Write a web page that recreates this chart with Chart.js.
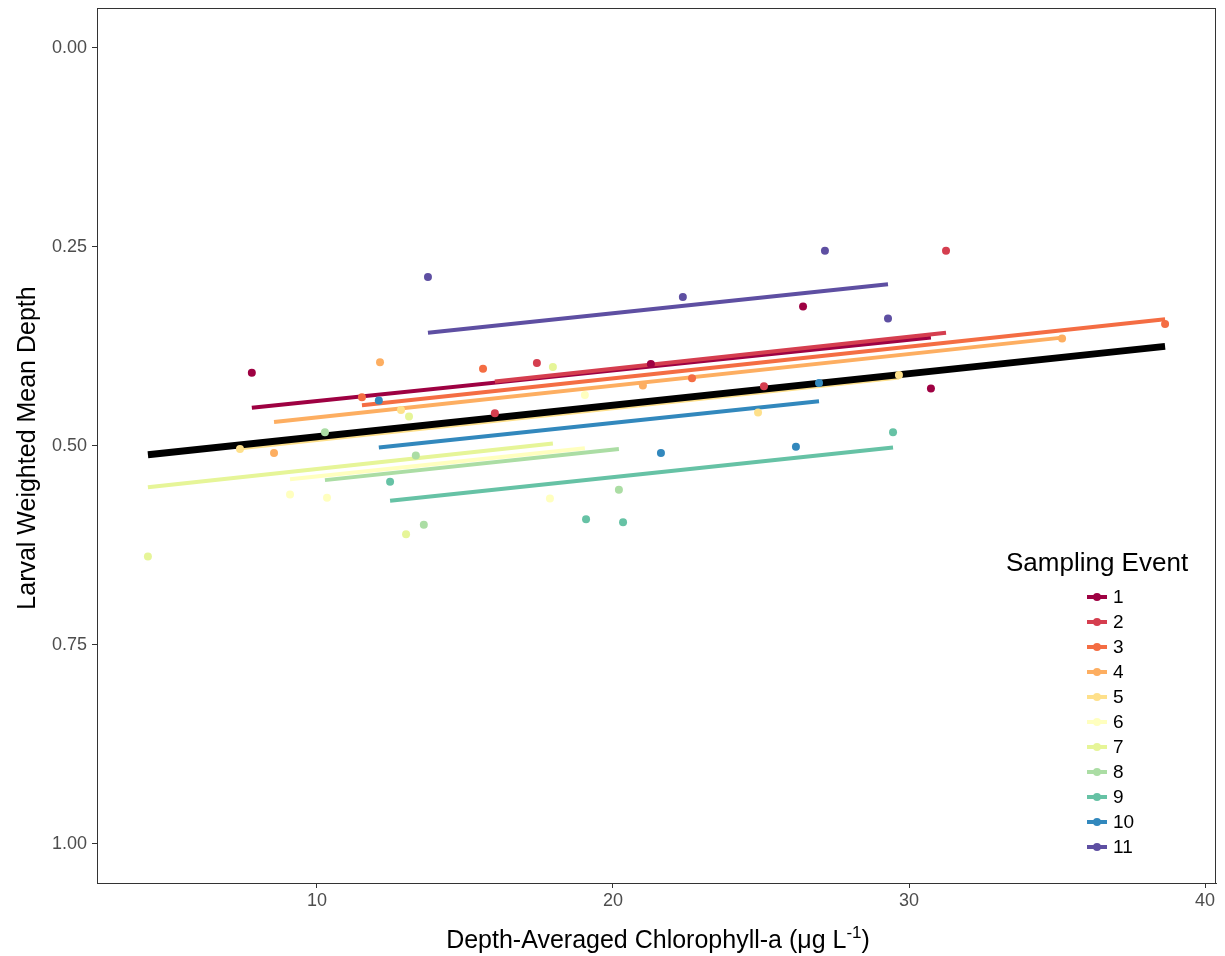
<!DOCTYPE html>
<html lang="en">
<head>
    <meta charset="UTF-8">
    <title>Larval Weighted Mean Depth vs Chlorophyll-a</title>
    <script src="https://cdn.jsdelivr.net/npm/chart.js@4.4.1/dist/chart.umd.min.js"></script>
    <style>
        body {
            margin: 0;
            padding: 0;
            background-color: #ffffff;
        }

        .chart-container {
            position: relative;
            width: 1225px;
            height: 956px;
        }
    </style>
</head>
<body>
    <div class="chart-container">
        <canvas id="depth-chart"></canvas>
    </div>

    <script>
        // Sampling events 1..11 (ColorBrewer Spectral)
        const eventLabels = ['1', '2', '3', '4', '5', '6', '7', '8', '9', '10', '11'];
        const eventColors = ['#9E0142', '#D53E4F', '#F46D43', '#FDAE61', '#FEE08B', '#FFFFBF',
                             '#E6F598', '#ABDDA4', '#66C2A5', '#3288BD', '#5E4FA2'];

        // Observed points: depth-averaged chlorophyll-a (x) and weighted mean depth (y)
        const chlA = [
            [7.80, 21.28, 26.42, 30.74],
            [17.43, 16.01, 25.10, 31.25],
            [15.61, 11.52, 22.67, 38.65],
            [12.13, 8.55, 21.01, 35.17],
            [12.84, 7.40, 24.90, 29.66],
            [9.09, 10.34, 19.05, 17.87],
            [4.29, 13.11, 13.01, 17.97],
            [10.27, 13.34, 13.61, 20.20],
            [12.47, 19.09, 20.34, 29.46],
            [12.09, 21.62, 26.18, 26.96],
            [13.75, 22.36, 27.16, 29.29]
        ];
        const meanDepth = [
            [0.408, 0.397, 0.325, 0.428],
            [0.396, 0.459, 0.425, 0.255],
            [0.403, 0.439, 0.415, 0.347],
            [0.395, 0.509, 0.424, 0.365],
            [0.455, 0.504, 0.458, 0.411],
            [0.561, 0.565, 0.436, 0.566],
            [0.639, 0.463, 0.611, 0.401],
            [0.483, 0.512, 0.599, 0.555],
            [0.545, 0.592, 0.596, 0.483],
            [0.443, 0.509, 0.501, 0.421],
            [0.288, 0.313, 0.255, 0.340]
        ];

        // Fitted line per event: depth at the event's lowest and highest chlorophyll-a
        const fitDepthStart = [0.452, 0.419, 0.449, 0.470, 0.503, 0.542, 0.552, 0.543, 0.569, 0.502, 0.358];
        const fitDepthEnd   = [0.364, 0.358, 0.341, 0.364, 0.414, 0.503, 0.497, 0.504, 0.502, 0.444, 0.297];

        // Overall fit (black)
        const overallChlA = [4.29, 38.65];
        const overallDepth = [0.511, 0.375];

        // Axis ticks
        const xTicks = [10, 20, 30, 40];
        const yTicks = [0, 0.25, 0.5, 0.75, 1];

        const FONT = '"Liberation Sans", Arial, Helvetica, sans-serif';

        const datasets = [];

        // points on top of everything
        eventLabels.forEach((label, i) => {
            datasets.push({
                type: 'scatter',
                label: label,
                data: chlA[i].map((x, j) => ({ x: x, y: meanDepth[i][j] })),
                backgroundColor: eventColors[i],
                borderWidth: 0,
                pointRadius: 4,
                pointHoverRadius: 4,
                order: 0
            });
        });

        // overall fit, above the per-event lines
        datasets.push({
            type: 'line',
            label: 'overall',
            data: overallChlA.map((x, j) => ({ x: x, y: overallDepth[j] })),
            borderColor: '#000000',
            borderWidth: 7,
            pointRadius: 0,
            borderCapStyle: 'butt',
            order: 1
        });

        // per-event fits; later events drawn over earlier ones
        eventLabels.forEach((label, i) => {
            const xmin = Math.min(...chlA[i]);
            const xmax = Math.max(...chlA[i]);
            datasets.push({
                type: 'line',
                label: 'fit ' + label,
                data: [{ x: xmin, y: fitDepthStart[i] }, { x: xmax, y: fitDepthEnd[i] }],
                borderColor: eventColors[i],
                borderWidth: 4,
                pointRadius: 0,
                borderCapStyle: 'butt',
                order: 100 - i
            });
        });

        // panel border, axis titles and legend
        const decorations = {
            id: 'decorations',
            afterDraw(chart) {
                const ctx = chart.ctx;
                const a = chart.chartArea;
                ctx.save();

                ctx.strokeStyle = '#333333';
                ctx.lineWidth = 1;
                ctx.strokeRect(a.left + 0.5, a.top + 0.5, a.right - a.left - 1, a.bottom - a.top);

                // x title with superscript
                ctx.fillStyle = '#000000';
                ctx.textBaseline = 'alphabetic';
                ctx.font = '25px ' + FONT;
                const part1 = 'Depth-Averaged Chlorophyll-a (\u03BCg L';
                const sup = '-1';
                const part2 = ')';
                const w1 = ctx.measureText(part1).width;
                const w3 = ctx.measureText(part2).width;
                ctx.font = '17px ' + FONT;
                const w2 = ctx.measureText(sup).width;
                const total = w1 + w2 + w3;
                let x0 = 658 - total / 2;
                const base = 948;
                ctx.font = '25px ' + FONT;
                ctx.textAlign = 'left';
                ctx.fillText(part1, x0, base);
                ctx.font = '17px ' + FONT;
                ctx.fillText(sup, x0 + w1, base - 10);
                ctx.font = '25px ' + FONT;
                ctx.fillText(part2, x0 + w1 + w2, base);

                // y title
                ctx.save();
                ctx.translate(35, 448);
                ctx.rotate(-Math.PI / 2);
                ctx.textAlign = 'center';
                ctx.font = '25px ' + FONT;
                ctx.fillText('Larval Weighted Mean Depth', 0, 0);
                ctx.restore();

                // legend
                ctx.font = '26px ' + FONT;
                ctx.textAlign = 'left';
                ctx.fillText('Sampling Event', 1006, 571);
                ctx.font = '19px ' + FONT;
                ctx.textBaseline = 'middle';
                eventLabels.forEach((label, i) => {
                    const cy = 597 + i * 25;
                    ctx.strokeStyle = eventColors[i];
                    ctx.lineWidth = 4;
                    ctx.beginPath();
                    ctx.moveTo(1087, cy);
                    ctx.lineTo(1107, cy);
                    ctx.stroke();
                    ctx.fillStyle = eventColors[i];
                    ctx.beginPath();
                    ctx.arc(1097, cy, 4, 0, Math.PI * 2);
                    ctx.fill();
                    ctx.fillStyle = '#000000';
                    ctx.fillText(label, 1113, cy + 1);
                });
                ctx.restore();
            }
        };

        new Chart(document.getElementById('depth-chart'), {
            data: { datasets: datasets },
            options: {
                responsive: true,
                maintainAspectRatio: false,
                animation: false,
                layout: { padding: { top: 8, right: 9, left: 0, bottom: 0 } },
                plugins: {
                    legend: { display: false },
                    tooltip: { enabled: false }
                },
                scales: {
                    x: {
                        type: 'linear',
                        min: 2.57,
                        max: 40.37,
                        afterBuildTicks: scale => { scale.ticks = xTicks.map(v => ({ value: v })); },
                        afterFit: scale => {
                            scale.height = 73;
                            scale.paddingLeft = 0;
                            scale.paddingRight = 0;
                        },
                        ticks: {
                            color: '#4D4D4D',
                            font: { family: FONT, size: 18 },
                            padding: 2,
                            maxRotation: 0,
                            callback: v => String(v)
                        },
                        grid: { drawOnChartArea: false, drawTicks: true, tickLength: 5, color: '#333333' },
                        border: { display: true, color: '#333333' }
                    },
                    y: {
                        type: 'linear',
                        reverse: true,
                        min: -0.05,
                        max: 1.049,
                        afterBuildTicks: scale => { scale.ticks = yTicks.map(v => ({ value: v })); },
                        afterFit: scale => {
                            scale.width = 97;
                            scale.paddingTop = 0;
                            scale.paddingBottom = 0;
                        },
                        ticks: {
                            color: '#4D4D4D',
                            font: { family: FONT, size: 18 },
                            padding: 5,
                            callback: v => Number(v).toFixed(2)
                        },
                        grid: { drawOnChartArea: false, drawTicks: true, tickLength: 5, color: '#333333' },
                        border: { display: true, color: '#333333' }
                    }
                }
            },
            plugins: [decorations]
        });
    </script>
</body>
</html>
